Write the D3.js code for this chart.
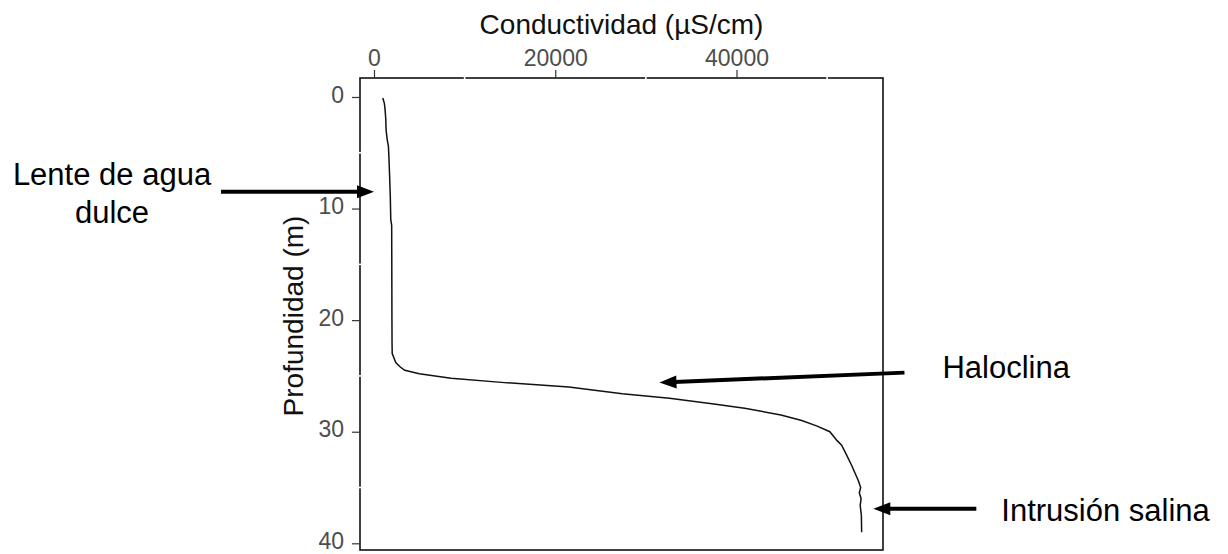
<!DOCTYPE html>
<html>
  <head>
    <meta http-equiv="Content-Type" content="text/html;charset=utf-8"/>
    <script type="text/javascript" src="https://cdn.jsdelivr.net/npm/d3@7"></script>
    <style type="text/css">

body {
  margin: 0;
  background: #fff;
}

svg {
  font-family: "Liberation Sans", Arial, sans-serif;
}

.axis path {
  display: none;
}

.axis line {
  stroke: #333;
  stroke-width: 1.2px;
}

.axis text {
  fill: #4d4d4d;
  font-size: 23px;
}

.title {
  fill: #111;
  font-size: 28px;
}

.note {
  fill: #000;
  font-size: 31px;
}

    </style>
  </head>
  <body>
    <svg width="1228" height="554"></svg>

    <script type="text/javascript">

// profile: depth (m) and conductivity (uS/cm)
var depth = [0.1, 0.6, 1.2, 2.0, 2.9, 3.8, 4.4, 5.5, 7.0, 9.0, 11.0, 11.5, 14.0, 17.0, 20.0,
             22.0, 23.0, 23.8, 24.2, 24.5, 24.8, 25.2, 25.6, 26.0, 26.6, 27.0, 27.5, 27.9,
             28.5, 29.0, 29.5, 30.0, 30.8, 31.2, 32.0, 33.0, 34.4, 35.0, 35.5, 36.0, 36.6,
             37.5, 39.0];
var conductivity = [970, 1150, 1230, 1300, 1330, 1450, 1590, 1650, 1720, 1800, 1850, 1950,
                    1960, 1970, 1980, 1990, 2010, 2400, 2900, 3400, 5000, 8500, 14400, 21500,
                    27400, 32600, 37300, 40900, 44900, 47200, 48900, 50300, 51100, 51600,
                    52100, 52700, 53450, 53700, 53550, 53750, 53650, 53780, 53810];

var xTicks = [0, 20000, 40000];
var xMinor = [10000, 30000, 50000];
var yTicks = [0, 10, 20, 30, 40];
var yMinor = [5, 15, 25, 35];

// annotations: text and the point the arrow touches (data units)
var noteText = [["Lente de agua", "dulce"], ["Haloclina"], ["Intrusión salina"]];
var noteCond = [0, 31500, 55100];
var noteDepth = [8.5, 25.6, 36.9];

var m = {left: 360, right: 883, top: 78, bottom: 550};

var svg = d3.select("svg");

var x = d3.scaleLinear().domain([-1545, 56166]).range([m.left, m.right]);
var y = d3.scaleLinear().domain([-1.7, 40.6]).range([m.top, m.bottom]);

var pts = depth.map(function(d, i) { return [conductivity[i], d]; });

var line = d3.line()
    .x(function(d) { return x(d[0]); })
    .y(function(d) { return y(d[1]); });

svg.append("path")
    .datum(pts)
    .attr("d", line)
    .attr("fill", "none")
    .attr("stroke", "#111")
    .attr("stroke-width", 1.5);

// panel border
svg.append("rect")
    .attr("x", m.left)
    .attr("y", m.top)
    .attr("width", m.right - m.left)
    .attr("height", m.bottom - m.top)
    .attr("fill", "none")
    .attr("stroke", "#111")
    .attr("stroke-width", 1.6);

// small white breaks on the axis lines at minor breaks
svg.selectAll(".xgap")
    .data(xMinor)
  .enter().append("line")
    .attr("x1", function(d) { return x(d); })
    .attr("x2", function(d) { return x(d); })
    .attr("y1", m.top - 2)
    .attr("y2", m.top + 2)
    .attr("stroke", "#fff")
    .attr("stroke-width", 1.6);

svg.selectAll(".ygap")
    .data(yMinor)
  .enter().append("line")
    .attr("x1", m.left - 2)
    .attr("x2", m.left + 2)
    .attr("y1", function(d) { return y(d); })
    .attr("y2", function(d) { return y(d); })
    .attr("stroke", "#fff")
    .attr("stroke-width", 1.6);

svg.append("g")
    .attr("class", "axis")
    .attr("transform", "translate(0," + m.top + ")")
    .call(d3.axisTop(x).tickValues(xTicks).tickSize(8).tickPadding(4).tickFormat(d3.format("d")));

svg.append("g")
    .attr("class", "axis")
    .attr("transform", "translate(" + m.left + ",0)")
    .call(d3.axisLeft(y).tickValues(yTicks).tickSize(8).tickPadding(8))
  .selectAll("text")
    .attr("dy", "0.22em");

svg.append("text")
    .attr("class", "title")
    .attr("x", (m.left + m.right) / 2)
    .attr("y", 34)
    .attr("text-anchor", "middle")
    .text("Conductividad (µS/cm)");

svg.append("text")
    .attr("class", "title")
    .attr("transform", "translate(303," + ((m.top + m.bottom) / 2 + 2) + ") rotate(-90)")
    .attr("text-anchor", "middle")
    .text("Profundidad (m)");

// arrows + labels
function arrow(x1, y1, x2, y2) {
  var a = Math.atan2(y2 - y1, x2 - x1),
      L = 17, W = 6.5,
      bx = x2 - L * Math.cos(a),
      by = y2 - L * Math.sin(a);
  svg.append("line")
      .attr("x1", x1).attr("y1", y1)
      .attr("x2", bx + 2 * Math.cos(a)).attr("y2", by + 2 * Math.sin(a))
      .attr("stroke", "#000")
      .attr("stroke-width", 4);
  svg.append("path")
      .attr("d", "M" + x2 + "," + y2 +
                 "L" + (bx - W * Math.sin(a)) + "," + (by + W * Math.cos(a)) +
                 "L" + (bx + W * Math.sin(a)) + "," + (by - W * Math.cos(a)) + "Z")
      .attr("fill", "#000");
}

// tail offsets and text offsets from the tail, in px
var tailDx = [-153, 245, 103],
    tailDy = [0, -10, 0],
    textDx = [-109, 38, 25],
    textDy = [-7, 5, 12],
    anchor = ["middle", "start", "start"];

noteText.forEach(function(t, i) {
  var tx = x(noteCond[i]), ty = y(noteDepth[i]),
      sx = tx + tailDx[i], sy = ty + tailDy[i];
  arrow(sx, sy, tx, ty);
  var txt = svg.append("text")
      .attr("class", "note")
      .attr("text-anchor", anchor[i]);
  t.forEach(function(s, j) {
    txt.append("tspan")
        .attr("x", sx + textDx[i])
        .attr("y", sy + textDy[i] + j * 38)
        .text(s);
  });
});

    </script>
  </body>
</html>
